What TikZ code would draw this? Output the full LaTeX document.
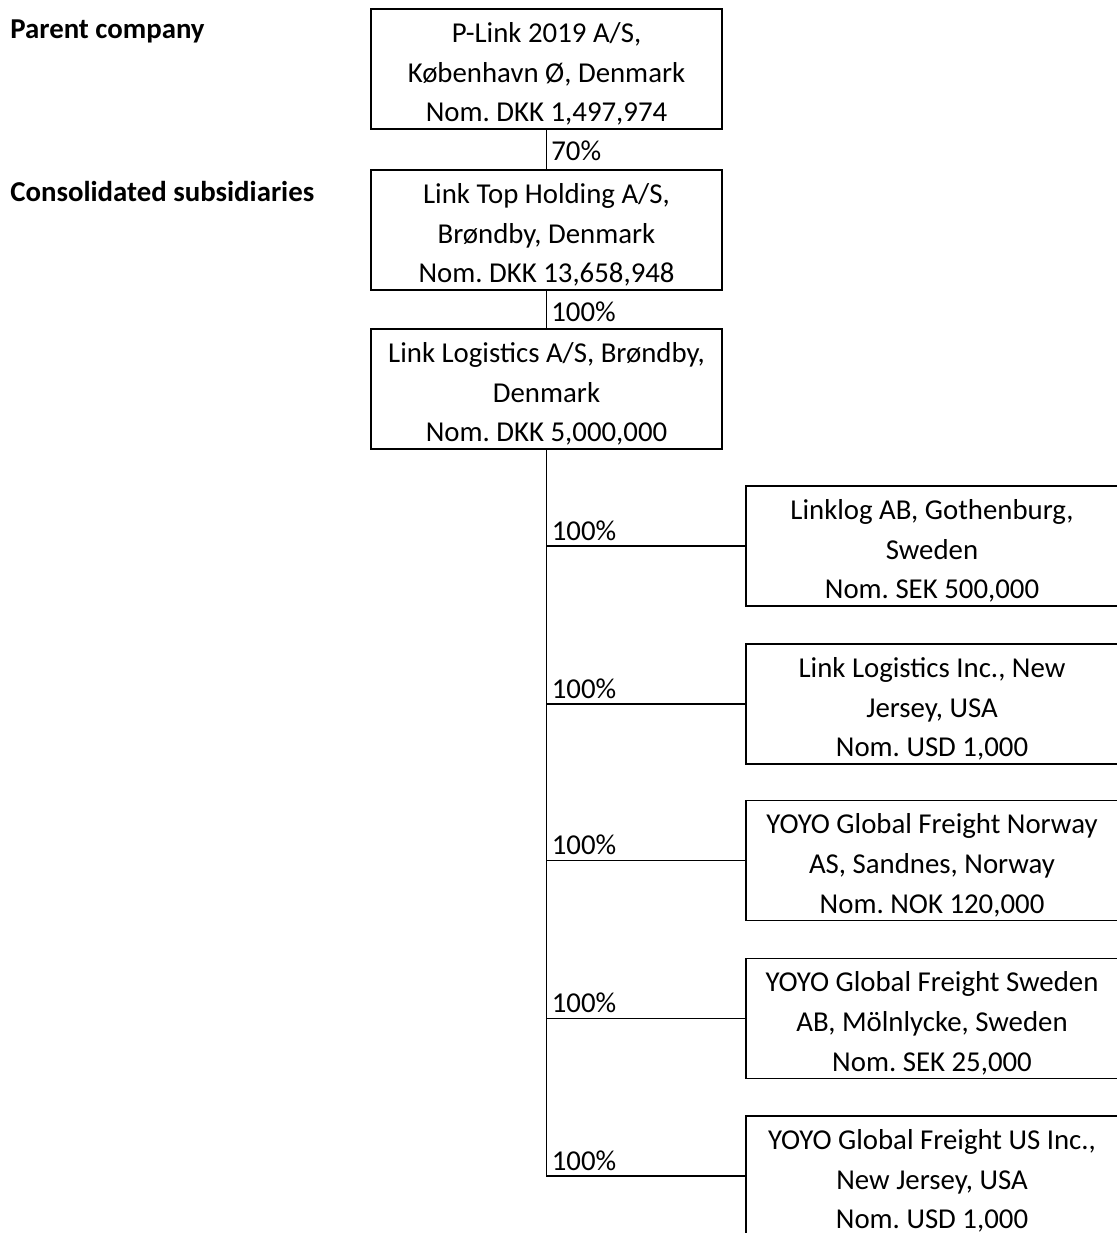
\documentclass[tikz,border=0pt]{standalone}
\usepackage{fontspec}
\setmainfont{Carlito}
\usepackage{tikz}
\usepackage{xcolor}
\frenchspacing
\newcommand{\boxstrut}{\rule{0pt}{17pt}}

\begin{document}
\begin{tikzpicture}[x=0.02cm,y=-0.02cm]
				\tikzset{every node/.style={inner sep=0pt,font=\fontsize{16.4}{22.7}\selectfont},
					company/.style={draw=black,line width=0.9pt,align=center,minimum height=2.4cm},
					mainbox/.style={company,minimum width=7.02cm},
					subbox/.style={company,minimum width=7.44cm},
					share/.style={anchor=base west},
					heading/.style={anchor=base west,font=\fontsize{16.4}{22.7}\selectfont\bfseries}}
				\useasboundingbox (0,0) rectangle (1116,1233);
				% headings
				\node [heading] (lblparent) at (10,39) {Parent company};
				\node [heading] (lblcons) at (10,201) {Consolidated subsidiaries};
				% Danish chain
				\node [mainbox] (plink) at (546.5,69) {\boxstrut P-Link 2019 A/S,\\København Ø, Denmark\\Nom. DKK 1,497,974};
				\node [mainbox] (tophold) at (546.5,230) {\boxstrut Link Top Holding A/S,\\Brøndby, Denmark\\Nom. DKK 13,658,948};
				\node [mainbox] (linklog) at (546.5,389) {\boxstrut Link Logistics A/S, Brøndby,\\Denmark\\Nom. DKK 5,000,000};
				% subsidiaries
				\node [subbox] (gbg) at (932,546) {\boxstrut Linklog AB, Gothenburg,\\Sweden\\Nom. SEK 500,000};
				\node [subbox] (nj) at (932,704) {\boxstrut Link Logistics Inc., New\\Jersey, USA\\Nom. USD 1,000};
				\node [subbox] (nor) at (932,860.5) {\boxstrut YOYO Global Freight Norway\\AS, Sandnes, Norway\\Nom. NOK 120,000};
				\node [subbox] (swe) at (932,1018.5) {\boxstrut YOYO Global Freight Sweden\\AB, Mölnlycke, Sweden\\Nom. SEK 25,000};
				\node [subbox] (usa) at (932,1176) {\boxstrut YOYO Global Freight US Inc.,\\New Jersey, USA\\Nom. USD 1,000};
				% connectors
				\draw [black,line width=0.9pt] (plink) -- (tophold);
				\node [share] (p70) at (551,161) {70\%};
				\draw [black,line width=0.9pt] (tophold) -- (linklog);
				\node [share] (p100a) at (551,321) {100\%};
				\draw [black,line width=0.9pt] (linklog.south) |- (usa.west);
				\foreach \sub/\pc in {gbg/b,nj/c,nor/d,swe/e,usa/f}{
					\draw [black,line width=0.9pt] (\sub.west) -- (\sub.west -| linklog.south);
					\node [share,yshift=0.12cm] (p100\pc) at (\sub.west -| linklog.south) [xshift=0.1cm] {100\%};
				}
				\end{tikzpicture}
\end{document}
